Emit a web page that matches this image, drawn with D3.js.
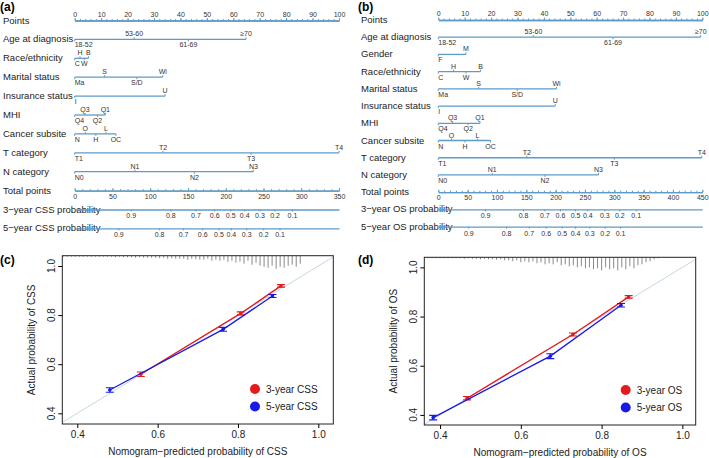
<!DOCTYPE html>
<html>
<head>
<meta charset="utf-8">
<script src="https://cdn.jsdelivr.net/npm/d3@7"></script>
<style>
  body { margin: 0; background: #fff; }
  text { font-family: "Liberation Sans", Arial, sans-serif; }
</style>
</head>
<body>
<svg id="fig" width="709" height="458"></svg>
<script>
// ---- (a) CSS nomogram ----
var cssVarNames = ["Age at diagnosis", "Race/ethnicity", "Marital status", "Insurance status",
                   "MHI", "Cancer subsite", "T category", "N category"];
var cssLevels = [["18-52", "53-60", "61-69", "≥70"], ["C", "H", "W", "B"], ["Ma", "S", "S/D", "Wi"],
                 ["I", "U"], ["Q4", "Q3", "Q2", "Q1"], ["N", "O", "H", "L", "OC"],
                 ["T1", "T2", "T3", "T4"], ["N0", "N1", "N2", "N3"]];
var cssLevelPoints = [[0, 22.5, 43, 64.8], [0, 2, 3.6, 5.2], [0, 11.3, 23.5, 33.3], [0, 34.2],
                      [0, 3.9, 8.6, 11.6], [0, 4, 8, 11.8, 15.6], [0, 33.4, 66.7, 100], [0, 22.8, 45.3, 67.6]];
var cssTotalTicks = [0, 50, 100, 150, 200, 250, 300, 350];
var css3yrTotals = [74.2, 126.6, 159.9, 184.7, 205.9, 224.4, 244.7, 264.6, 287.7];
var css5yrTotals = [57.8, 111.8, 143.6, 168.8, 190.4, 206.8, 227.1, 249.6, 271.2];

// ---- (b) OS nomogram ----
var osVarNames = ["Age at diagnosis", "Gender", "Race/ethnicity", "Marital status", "Insurance status",
                  "MHI", "Cancer subsite", "T category", "N category"];
var osLevels = [["18-52", "53-60", "61-69", "≥70"], ["F", "M"], ["C", "H", "W", "B"], ["Ma", "S", "S/D", "Wi"],
                ["I", "U"], ["Q4", "Q3", "Q2", "Q1"], ["N", "O", "H", "L", "OC"],
                ["T1", "T2", "T3", "T4"], ["N0", "N1", "N2", "N3"]];
var osLevelPoints = [[0, 36, 66.2, 99.4], [0, 10.5], [0, 5.8, 10.5, 16], [0, 15.3, 29.9, 44.8], [0, 44.3],
                     [0, 5.4, 11.3, 15.8], [0, 5, 10.1, 14.8, 19.8], [0, 33.5, 66.7, 99.8], [0, 20.4, 40.4, 60.7]];
var osTotalTicks = [0, 50, 100, 150, 200, 250, 300, 350, 400, 450];
var os3yrTotals = [79.6, 144.4, 180.7, 207.4, 233, 254, 283, 308.5, 336.5];
var os5yrTotals = [51.1, 115.4, 154.1, 183, 210.3, 233, 257.4, 283.6, 309.7];

var pointTicks = [0, 10, 20, 30, 40, 50, 60, 70, 80, 90, 100];
var probLabels = ["0.9", "0.8", "0.7", "0.6", "0.5", "0.4", "0.3", "0.2", "0.1"];

// ---- (c) CSS calibration ----
var cssPred3 = [0.558, 0.807, 0.907];
var cssObs3  = [0.559, 0.807, 0.919];
var cssErr3  = [0.009, 0.006, 0.005];
var cssPred5 = [0.481, 0.763, 0.886];
var cssObs5  = [0.495, 0.742, 0.878];
var cssErr5  = [0.009, 0.008, 0.006];
// spike histogram of predicted values, bins of 0.01 starting at 0.365
var cssSpikes = [1, 1, 1, 1, 1, 1, 1, 1, 1, 1,
                 1, 1, 1, 1.5, 1, 1.5, 1.5, 1.5, 2, 1.5,
                 2, 2, 2, 2, 2.5, 2, 3, 2.5, 3, 3,
                 3, 4, 3, 3.5, 4, 4, 3, 5, 4, 5,
                 4, 6, 5, 7, 6, 8, 5, 9, 7, 10,
                 11, 12, 10, 13, 11, 12, 10, 9, 11, 8];

// ---- (d) OS calibration ----
var osPred3 = [0.467, 0.729, 0.867];
var osObs3  = [0.468, 0.727, 0.880];
var osErr3  = [0.007, 0.006, 0.005];
var osPred5 = [0.383, 0.673, 0.848];
var osObs5  = [0.389, 0.639, 0.846];
var osErr5  = [0.009, 0.010, 0.007];
// bins of 0.01 starting at 0.37
var osSpikes = [1, 1, 1, 1, 1, 1, 1, 1, 1, 1.5,
                1, 1.5, 1.5, 2, 1.5, 2, 2, 2.5, 2, 3,
                3, 4, 3, 5, 4, 5, 4, 6, 5, 7,
                6, 7, 5, 8, 7, 9, 8, 10, 9, 11,
                10, 12, 11, 13, 10, 12, 11, 13, 10, 12,
                9, 11, 8, 7, 5, 4, 2, 1];

var calTicks = [0.4, 0.6, 0.8, 1.0];
var lineBlue = "#5f9bc8";
var red = "#e41a1c", blue = "#1a1ae6";

var svg = d3.select("#fig");

function panelLabel(txt, x, y) {
    svg.append("text").attr("x", x).attr("y", y)
       .attr("font-size", "12px").attr("font-weight", "bold").text(txt);
}

function styleAxis(g) {
    g.select(".domain").attr("stroke", lineBlue).attr("stroke-width", 1.3);
    g.selectAll(".tick line").attr("stroke", lineBlue);
    g.selectAll(".tick text").attr("font-size", "7px").attr("fill", "#333")
     .attr("font-family", "Liberation Sans, Arial, sans-serif");
}

function drawNomogram(o) {
    var rows = ["Points"].concat(o.names, ["Total points", o.probNames[0], o.probNames[1]]);
    var yRow = d3.scaleLinear().domain([0, rows.length - 1]).range([o.yTop, o.yBottom]);
    var xPt = d3.scaleLinear().domain([0, 100]).range([o.x0, o.x1]);
    var xTot = d3.scaleLinear().domain([0, o.totalTicks[o.totalTicks.length - 1]]).range([o.x0, o.x1]);

    svg.append("g").selectAll("text").data(rows).enter().append("text")
       .attr("x", o.labelX)
       .attr("y", function(d, i) {return yRow(i) + 3;})
       .attr("font-size", "9.5px").attr("fill", "#222")
       .text(function(d) {return d;});

    // points scale
    var minorPts = svg.append("g").attr("transform", "translate(0," + yRow(0) + ")")
       .call(d3.axisTop(xPt).ticks(50).tickSize(1.5).tickSizeOuter(0).tickFormat(""));
    styleAxis(minorPts);
    var pts = svg.append("g").attr("transform", "translate(0," + yRow(0) + ")")
       .call(d3.axisTop(xPt).tickValues(pointTicks).tickSize(2.5).tickSizeOuter(0).tickPadding(1.5));
    styleAxis(pts);

    // one line per variable
    o.levels.forEach(function(lv, k) {
        var y = yRow(k + 1);
        var p = o.points[k];
        var g = svg.append("g");
        g.append("line").attr("x1", xPt(0)).attr("x2", xPt(d3.max(p)))
         .attr("y1", y).attr("y2", y).attr("stroke", lineBlue).attr("stroke-width", 1.3);
        g.selectAll("line.tk").data(p).enter().append("line").attr("class", "tk")
         .attr("x1", function(d) {return xPt(d);}).attr("x2", function(d) {return xPt(d);})
         .attr("y1", y).attr("y2", function(d, i) {return i % 2 ? y - 2 : y + 2;})
         .attr("stroke", lineBlue);
        g.selectAll("text").data(lv).enter().append("text")
         .attr("x", function(d, i) {return xPt(p[i]);})
         .attr("y", function(d, i) {return i % 2 ? y - 3 : y + 8;})
         .attr("text-anchor", function(d, i) {return p[i] === 0 ? "start" : "middle";})
         .attr("font-size", "7px").attr("fill", "#333")
         .text(function(d) {return d;});
    });

    // total points
    var nT = o.names.length + 1;
    var minorTot = svg.append("g").attr("transform", "translate(0," + yRow(nT) + ")")
       .call(d3.axisTop(xTot).ticks(o.totalTicks.length * 5).tickSize(1.5).tickSizeOuter(0).tickFormat(""));
    styleAxis(minorTot);
    var tot = svg.append("g").attr("transform", "translate(0," + yRow(nT) + ")")
       .call(d3.axisBottom(xTot).tickValues(o.totalTicks).tickSize(0).tickSizeOuter(0).tickPadding(3));
    styleAxis(tot);
    tot.selectAll(".tick").append("line").attr("y2", -2.5).attr("stroke", lineBlue);

    // probability scales
    [o.prob3, o.prob5].forEach(function(tv, j) {
        var ax = svg.append("g").attr("transform", "translate(0," + yRow(nT + 1 + j) + ")")
           .call(d3.axisBottom(xTot).tickValues(tv).tickSize(2).tickSizeOuter(0).tickPadding(2)
                 .tickFormat(function(d, i) {return probLabels[i];}));
        styleAxis(ax);
    });
}

function drawCalibration(o) {
    var x = d3.scaleLinear().domain(o.xDomain).range([o.left, o.right]);
    var y = d3.scaleLinear().domain(o.yDomain).range([o.bottom, o.top]);
    var clipId = "clip" + o.id;
    svg.append("clipPath").attr("id", clipId).append("rect")
       .attr("x", o.left).attr("y", o.top).attr("width", o.right - o.left).attr("height", o.bottom - o.top);
    var g = svg.append("g").attr("clip-path", "url(#" + clipId + ")");

    g.append("line")
     .attr("x1", x(0.3)).attr("y1", y(0.3)).attr("x2", x(1.1)).attr("y2", y(1.1))
     .attr("stroke", "#c5d6e6").attr("stroke-width", 1);

    var spikeLen = d3.scaleLinear().domain([0, 13]).range([0, 13]);
    g.selectAll("line.spike").data(o.spikes).enter().append("line").attr("class", "spike")
     .attr("x1", function(d, i) {return x(o.spikeStart + i * 0.01);})
     .attr("x2", function(d, i) {return x(o.spikeStart + i * 0.01);})
     .attr("y1", o.top).attr("y2", function(d) {return o.top + spikeLen(d);})
     .attr("stroke", "#8a8a8a").attr("stroke-width", 1);

    o.series.forEach(function(s) {
        var line = d3.line().x(function(d) {return x(d[0]);}).y(function(d) {return y(d[1]);});
        var pts = s.pred.map(function(p, i) {return [p, s.obs[i], s.err[i]];});
        g.append("path").attr("d", line(pts)).attr("fill", "none")
         .attr("stroke", s.color).attr("stroke-width", 1.3);
        var eb = g.selectAll(null).data(pts).enter().append("g").attr("stroke", s.color).attr("stroke-width", 1.1);
        eb.append("line").attr("x1", function(d) {return x(d[0]);}).attr("x2", function(d) {return x(d[0]);})
          .attr("y1", function(d) {return y(d[1] - d[2]);}).attr("y2", function(d) {return y(d[1] + d[2]);});
        [-1, 1].forEach(function(sg) {
            eb.append("line").attr("x1", function(d) {return x(d[0]) - 4;}).attr("x2", function(d) {return x(d[0]) + 4;})
              .attr("y1", function(d) {return y(d[1] + sg * d[2]);}).attr("y2", function(d) {return y(d[1] + sg * d[2]);});
        });
        g.selectAll(null).data(pts).enter().append("circle")
         .attr("cx", function(d) {return x(d[0]);}).attr("cy", function(d) {return y(d[1]);})
         .attr("r", 1.8).attr("fill", s.color);
    });

    svg.append("rect").attr("x", o.left).attr("y", o.top)
       .attr("width", o.right - o.left).attr("height", o.bottom - o.top)
       .attr("fill", "none").attr("stroke", "#222").attr("stroke-width", 1);

    var xa = svg.append("g").attr("transform", "translate(0," + o.bottom + ")")
       .call(d3.axisBottom(x).tickValues(calTicks).tickSize(4).tickPadding(3).tickFormat(d3.format(".1f")));
    xa.select(".domain").remove();
    xa.selectAll("text").attr("font-size", "10px").attr("fill", "#222").attr("font-family", "Liberation Sans, Arial, sans-serif");

    var ya = svg.append("g").attr("transform", "translate(" + o.left + ",0)")
       .call(d3.axisLeft(y).tickValues(calTicks).tickSize(4).tickFormat(""));
    ya.select(".domain").remove();
    svg.append("g").selectAll("text").data(calTicks).enter().append("text")
       .attr("transform", function(d) {return "translate(" + (o.left - 7.5) + "," + y(d) + ") rotate(-90)";})
       .attr("text-anchor", "middle").attr("font-size", "10px").attr("fill", "#222")
       .text(d3.format(".1f"));

    svg.append("text").attr("x", (o.left + o.right) / 2).attr("y", o.bottom + 31)
       .attr("text-anchor", "middle").attr("font-size", "10px").attr("fill", "#222").text(o.xTitle);
    svg.append("text")
       .attr("transform", "translate(" + (o.left - 27) + "," + ((o.top + o.bottom) / 2) + ") rotate(-90)")
       .attr("text-anchor", "middle").attr("font-size", "10px").attr("fill", "#222").text(o.yTitle);

    var leg = svg.append("g").selectAll("g").data(o.series).enter().append("g")
       .attr("transform", function(d, i) {return "translate(" + o.legX + "," + (o.legY + i * 17.5) + ")";});
    leg.append("circle").attr("r", 5).attr("fill", function(d) {return d.color;});
    leg.append("text").attr("x", 11).attr("y", 3.5).attr("font-size", "10px").attr("fill", "#222")
       .text(function(d) {return d.name;});
}

panelLabel("(a)", 0, 11);
panelLabel("(b)", 358, 11);
panelLabel("(c)", 0, 264);
panelLabel("(d)", 358, 264);

drawNomogram({names: cssVarNames, levels: cssLevels, points: cssLevelPoints, totalTicks: cssTotalTicks,
              prob3: css3yrTotals, prob5: css5yrTotals,
              probNames: ["3\u2212year CSS probability", "5\u2212year CSS probability"],
              labelX: 3, x0: 74.7, x1: 339, yTop: 20.5, yBottom: 228.4});
drawNomogram({names: osVarNames, levels: osLevels, points: osLevelPoints, totalTicks: osTotalTicks,
              prob3: os3yrTotals, prob5: os5yrTotals,
              probNames: ["3\u2212year OS probability", "5\u2212year OS probability"],
              labelX: 361, x0: 438.3, x1: 702.3, yTop: 20, yBottom: 226.6});

drawCalibration({id: "c", left: 62.3, right: 333.3, top: 255.7, bottom: 424,
                 xDomain: [0.3627, 1.0373], yDomain: [0.3564, 1.042],
                 spikes: cssSpikes, spikeStart: 0.365,
                 series: [{name: "3-year CSS", color: red, pred: cssPred3, obs: cssObs3, err: cssErr3},
                          {name: "5-year CSS", color: blue, pred: cssPred5, obs: cssObs5, err: cssErr5}],
                 xTitle: "Nomogram\u2212predicted probability of CSS", yTitle: "Actual probability of CSS",
                 legX: 255, legY: 389});
drawCalibration({id: "d", left: 424.3, right: 695.7, top: 257.3, bottom: 425,
                 xDomain: [0.361, 1.033], yDomain: [0.359, 1.041],
                 spikes: osSpikes, spikeStart: 0.37,
                 series: [{name: "3-year OS", color: red, pred: osPred3, obs: osObs3, err: osErr3},
                          {name: "5-year OS", color: blue, pred: osPred5, obs: osObs5, err: osErr5}],
                 xTitle: "Nomogram\u2212predicted probability of OS", yTitle: "Actual probability of OS",
                 legX: 625.7, legY: 390});
</script>
</body>
</html>
